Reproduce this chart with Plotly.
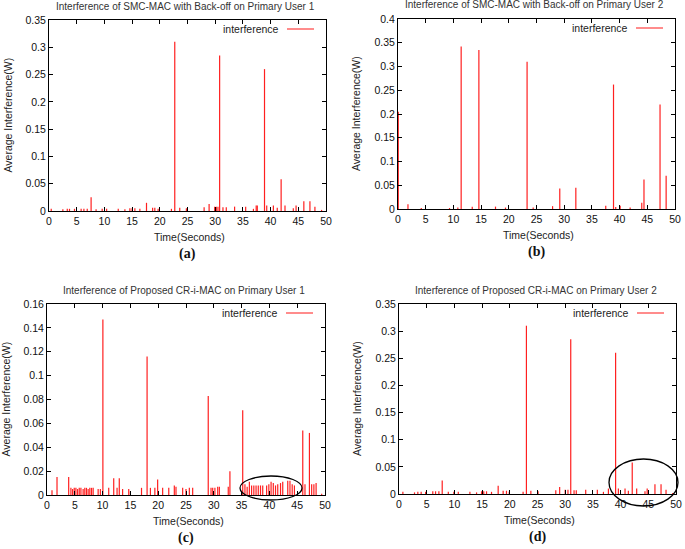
import plotly.graph_objects as go

W, H = 685, 549

# ---------------- data ----------------
x_ticks = [0, 5, 10, 15, 20, 25, 30, 35, 40, 45, 50]

# (a) SMC-MAC with back-off, Primary User 1
a_time = [0.4, 2.5, 3.3, 3.7, 4.6, 5.8, 6.3, 6.9, 7.6, 8.5, 9.6, 10.4, 12.5, 13.7,
          14.6, 15.0, 15.5, 16.4, 17.6, 18.7, 19.1, 19.7, 22.1, 22.7, 23.6, 24.8,
          28.0, 28.9, 29.9, 30.2, 30.5, 30.8, 31.4, 32.0, 33.5, 35.5, 36.9, 37.4,
          37.6, 38.9, 39.3, 40.5, 41.2, 41.9, 42.6, 44.1, 44.6, 46.0, 47.1, 48.0, 49.2]
a_value = [0.004, 0.003, 0.004, 0.004, 0.004, 0.004, 0.004, 0.004, 0.025, 0.003, 0.004, 0.004, 0.004, 0.003,
           0.005, 0.005, 0.005, 0.004, 0.015, 0.006, 0.006, 0.004, 0.004, 0.31, 0.006, 0.005,
           0.007, 0.013, 0.008, 0.008, 0.008, 0.285, 0.007, 0.007, 0.008, 0.008, 0.004, 0.01,
           0.01, 0.26, 0.01, 0.01, 0.006, 0.058, 0.01, 0.005, 0.01, 0.018, 0.018, 0.008, 0.002]

# (b) SMC-MAC with back-off, Primary User 2
b_time = [0.05, 1.8, 4.2, 9.3, 10.8, 11.4, 13.4, 14.6, 17.6, 19.4, 23.3, 24.4, 27.9,
          29.2, 32.1, 37.5, 38.9, 39.3, 40.1, 41.9, 44.0, 44.4, 47.3, 48.4]
b_value = [0.205, 0.01, 0.002, 0.002, 0.003, 0.342, 0.005, 0.335, 0.005, 0.003, 0.31, 0.003, 0.006,
           0.043, 0.045, 0.007, 0.262, 0.004, 0.007, 0.003, 0.013, 0.062, 0.22, 0.07]

# (c) Proposed CR-i-MAC, Primary User 1
c_time = [0.9, 1.8, 3.9, 4.3, 4.6, 4.9, 5.2, 5.5, 5.8, 6.1, 6.5, 6.8, 7.1, 7.4, 7.7, 8.0, 8.3,
          9.2, 9.6, 10.05, 11.1, 12.0, 12.6, 13.0, 13.6, 14.7, 15.0, 17.0, 18.0, 18.6,
          19.4, 19.9, 20.8, 21.9, 22.9, 23.2, 24.4, 25.0, 25.6, 26.2, 29.0, 29.5, 29.8,
          30.2, 30.7, 31.0, 32.6, 32.9, 35.2, 35.6, 36.0, 36.4, 36.8, 37.2, 37.6, 38.0,
          38.4, 38.8, 39.5, 39.9, 40.3, 40.7, 41.1, 41.5, 42.0, 42.4, 43.3, 43.7, 44.1,
          44.5, 46.0, 46.4, 47.2, 47.6, 48.0, 48.4, 49.4]
c_value = [0.004, 0.015, 0.015, 0.006, 0.005, 0.006, 0.006, 0.005, 0.006, 0.006, 0.005, 0.006, 0.006, 0.005, 0.006, 0.006, 0.006,
           0.005, 0.005, 0.147, 0.006, 0.014, 0.006, 0.014, 0.005, 0.005, 0.003, 0.006, 0.116, 0.006,
           0.006, 0.013, 0.006, 0.006, 0.008, 0.007, 0.006, 0.005, 0.006, 0.006, 0.083, 0.006, 0.006,
           0.006, 0.007, 0.007, 0.007, 0.02, 0.071, 0.009, 0.007, 0.011, 0.008, 0.008, 0.008, 0.008,
           0.008, 0.008, 0.008, 0.009, 0.011, 0.01, 0.008, 0.009, 0.01, 0.011, 0.012, 0.012, 0.009,
           0.008, 0.054, 0.009, 0.052, 0.009, 0.009, 0.01, 0.001]

# (d) Proposed CR-i-MAC, Primary User 2
d_time = [0.7, 2.8, 3.4, 4.0, 4.8, 6.1, 6.6, 7.2, 7.8, 8.9, 9.9, 10.7, 12.8, 14.0, 14.9,
          15.3, 15.8, 16.7, 17.9, 18.8, 19.4, 19.9, 22.4, 23.0, 23.8, 25.1, 28.3, 29.0,
          30.0, 30.5, 31.0, 31.6, 32.0, 33.7, 35.8, 36.9, 37.8, 39.1, 39.6, 40.8, 41.4,
          42.1, 42.9, 44.4, 44.8, 46.2, 47.3, 48.2, 49.4]
d_value = [0.004, 0.003, 0.004, 0.004, 0.004, 0.005, 0.005, 0.005, 0.025, 0.004, 0.004, 0.004, 0.004, 0.003, 0.005,
           0.005, 0.005, 0.004, 0.015, 0.006, 0.006, 0.004, 0.004, 0.31, 0.006, 0.005, 0.007, 0.013,
           0.008, 0.008, 0.285, 0.007, 0.007, 0.008, 0.008, 0.004, 0.01, 0.26, 0.01, 0.01, 0.006,
           0.058, 0.01, 0.005, 0.01, 0.018, 0.018, 0.008, 0.002]

titles = ["Interference of SMC-MAC with Back-off on Primary User 1",
          "Interference of SMC-MAC with Back-off on Primary User 2",
          "Interference of Proposed CR-i-MAC on Primary User 1",
          "Interference of Proposed CR-i-MAC on Primary User 2"]
panel_labels = ["(a)", "(b)", "(c)", "(d)"]
y_ranges = [(0, 0.35, 0.05), (0, 0.4, 0.05), (0, 0.16, 0.02), (0, 0.35, 0.05)]
series = [(a_time, a_value), (b_time, b_value), (c_time, c_value), (d_time, d_value)]

# ---------------- layout geometry (pixels) ----------------
boxes = [(49, 20, 326, 211), (398, 19, 675, 209), (47, 304, 325, 495), (399, 304, 676, 494)]


def px(x):
    return x / W


def py(y):
    return 1 - y / H


FONT = "Liberation Sans, Arial, sans-serif"
fig = go.Figure()
annotations = []
shapes = []

for i, ((t, v), box, title, lab, yr) in enumerate(zip(series, boxes, titles, panel_labels, y_ranges)):
    n = "" if i == 0 else str(i + 1)
    xs, ys = [], []
    for ti, vi in zip(t, v):
        xs += [ti, ti, None]
        ys += [0, vi, None]
    fig.add_trace(go.Scatter(x=xs, y=ys, mode="lines", line=dict(color="#ff2020", width=1.2),
                             xaxis="x" + n, yaxis="y" + n, showlegend=False, hoverinfo="skip"))
    l, tp, r, b = box
    common = dict(showline=True, linecolor="black", linewidth=1, mirror="ticks", ticks="inside",
                  ticklen=4, tickcolor="black", showgrid=False, zeroline=False,
                  tickfont=dict(family=FONT, size=10.5, color="#111"), automargin=False)
    fig.layout["xaxis" + n] = dict(domain=[px(l), px(r)], range=[0, 50], tickvals=x_ticks,
                                   anchor="y" + n, **common)
    fig.layout["yaxis" + n] = dict(domain=[py(b), py(tp)], range=[yr[0], yr[1]], dtick=yr[2],
                                   tick0=0, anchor="x" + n, **common)
    cx = (l + r) / 2
    annotations.append(dict(text=title, x=px(cx - 2), y=py(tp - 14), xref="paper", yref="paper",
                            showarrow=False, font=dict(family=FONT, size=10, color="#333"),
                            xanchor="center", yanchor="middle"))
    annotations.append(dict(text="Time(Seconds)", x=px(cx + 2), y=py(b + 26), xref="paper", yref="paper",
                            showarrow=False, font=dict(family=FONT, size=10.5, color="#222"),
                            xanchor="center", yanchor="middle"))
    annotations.append(dict(text="<b>" + lab + "</b>", x=px(cx), y=py(b + 43), xref="paper", yref="paper",
                            showarrow=False, font=dict(family="Liberation Serif, Times New Roman, serif",
                                                       size=14, color="#111"),
                            xanchor="center", yanchor="middle"))
    annotations.append(dict(text="Average Interference(W)", x=px(l - 42), y=py((tp + b) / 2),
                            xref="paper", yref="paper", showarrow=False, textangle=-90,
                            font=dict(family=FONT, size=10.5, color="#222"),
                            xanchor="center", yanchor="middle"))
    # legend
    annotations.append(dict(text="interference", x=px(r - 45), y=py(tp + 9), xref="paper", yref="paper",
                            showarrow=False, font=dict(family=FONT, size=10.5, color="#222"),
                            xanchor="right", yanchor="middle"))
    shapes.append(dict(type="line", xref="paper", yref="paper", x0=px(r - 39), x1=px(r - 12),
                       y0=py(tp + 9), y1=py(tp + 9), line=dict(color="#ff4040", width=1.2)))

# highlight ellipses (c) and (d)
shapes.append(dict(type="circle", xref="paper", yref="paper", x0=px(240), x1=px(302),
                   y0=py(500), y1=py(476), line=dict(color="black", width=1.3)))
shapes.append(dict(type="circle", xref="paper", yref="paper", x0=px(609), x1=px(678),
                   y0=py(506), y1=py(459), line=dict(color="black", width=1.3)))

fig.update_layout(width=W, height=H, margin=dict(l=0, r=0, t=0, b=0),
                  paper_bgcolor="white", plot_bgcolor="white",
                  annotations=annotations, shapes=shapes, showlegend=False)

fig.write_html("out.html", config={"displayModeBar": False},
               post_script="document.body.style.margin='0';document.body.style.overflow='hidden';")
